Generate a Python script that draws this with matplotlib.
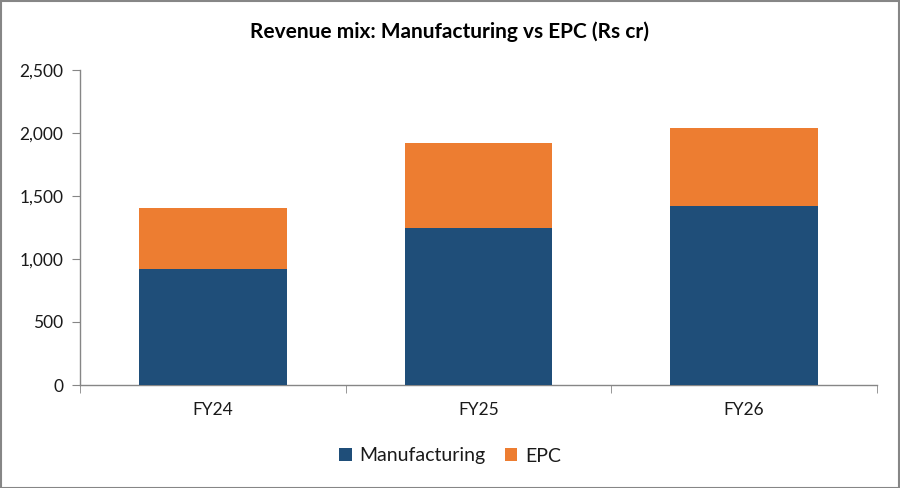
import matplotlib
matplotlib.use("Agg")
import matplotlib.pyplot as plt
from matplotlib.patches import Rectangle

categories = ["FY24", "FY25", "FY26"]
manufacturing = [920, 1245, 1420]
epc = [485, 672, 618]
y_ticks = [0, 500, 1000, 1500, 2000, 2500]
title = "Revenue mix: Manufacturing vs EPC (Rs cr)"

plt.rcParams['font.family'] = ['Lato', 'DejaVu Sans']

fig = plt.figure(figsize=(9, 4.88), dpi=100)
ax = fig.add_axes([80/900, 1-385/488, (877-80)/900, (385-70)/488])

x = list(range(len(categories)))
ax.bar(x, manufacturing, width=0.555, color="#1F4E79", label="Manufacturing", zorder=3)
ax.bar(x, epc, width=0.555, bottom=manufacturing, color="#ED7D31", label="EPC", zorder=3)

ax.set_xlim(-0.5, len(categories) - 0.5)
ax.set_ylim(0, 2500)
ax.set_yticks(y_ticks)
ax.set_yticklabels([f"{v:,}" for v in y_ticks])
ax.set_xticks(x)
ax.set_xticklabels(categories)
ax.set_xticks([i - 0.5 for i in range(len(categories) + 1)], minor=True)

gray = "#868686"
for s in ["top", "right"]:
    ax.spines[s].set_visible(False)
for s in ["left", "bottom"]:
    ax.spines[s].set_color(gray)
    ax.spines[s].set_linewidth(1.0)

ax.tick_params(axis="y", length=6, color=gray, labelsize=12.5, pad=6, labelcolor="#1a1a1a")
ax.tick_params(axis="x", which="major", length=0, labelsize=12.5, pad=12, labelcolor="#1a1a1a")
ax.tick_params(axis="x", which="minor", length=6, color=gray)

fig.text(0.5, 1-32/488, title, ha="center", va="center", fontsize=15, fontweight="bold", color="#000000")

leg = fig.legend(loc="center", bbox_to_anchor=(0.5, 1-456/488), ncol=2, frameon=False,
                 fontsize=14, handlelength=0.65, handleheight=0.65, handletextpad=0.4,
                 columnspacing=1.0)
for t in leg.get_texts():
    t.set_color("#1a1a1a")

fig.patches.append(Rectangle((0.5/900, 0.5/488), 1-1.5/900, 1-1.5/488, transform=fig.transFigure,
                             fill=False, edgecolor=gray, linewidth=1.5))

fig.savefig("out.png", dpi=100)
